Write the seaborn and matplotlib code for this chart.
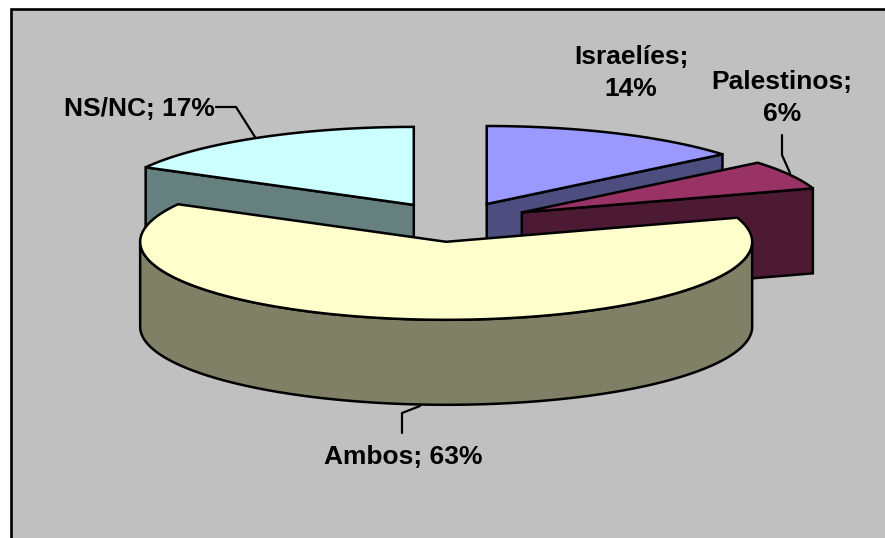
import numpy as np
import matplotlib.pyplot as plt
import matplotlib.patches as mpatches
import seaborn as sns

labels = ['Israelíes', 'Palestinos', 'Ambos', 'NS/NC']
shares = [14, 6, 63, 17]
top_colors = ['#9999FF', '#993366', '#FFFFCC', '#CCFFFF']
text_lines = ['Israelíes;\n14%', 'Palestinos;\n6%', 'Ambos; 63%', 'NS/NC; 17%']

sns.set_theme(style='white')
plt.rcParams['font.family'] = ['Liberation Sans', 'DejaVu Sans']
palette = sns.color_palette(top_colors)

# pie geometry, in picture pixels
cx, cy = 453.5, 222
rx, ry = 306, 78
depth = 85
explode = 78


def rim(c, angles):
    a = np.radians(angles)
    return np.column_stack([c[0] + rx * np.sin(a), c[1] - ry * np.cos(a)])


fig = plt.figure(figsize=(8.85, 5.38), dpi=100)
ax = fig.add_axes([0, 0, 1, 1])
ax.set_xlim(0, 885)
ax.set_ylim(538, 0)
ax.axis('off')

ax.add_patch(mpatches.Rectangle((10.5, 8.5), 890, 550, fc='#C0C0C0', ec='black', lw=1.9, zorder=0))

# slices, clockwise from 12 o'clock
edges = np.cumsum([0] + shares) * 3.6
slices = {}
for i, lab in enumerate(labels):
    start, end = edges[i], edges[i + 1]
    mid = np.radians((start + end) / 2)
    c = (cx + explode * np.sin(mid), cy - explode * (ry / rx) * np.cos(mid))
    slices[lab] = (c, start, end, palette[i])

down = np.array([0, depth])
# back slices first, the big front one last
draw_order = ['Israelíes', 'NS/NC', 'Palestinos', 'Ambos']
for z, lab in enumerate(draw_order):
    c, start, end, col = slices[lab]
    wall = tuple(np.array(col) * 0.5)
    apex = np.array(c)
    kw = dict(ec='black', lw=1.8, joinstyle='miter', zorder=2 + z)

    # cut faces seen from the front
    if start < 90 and end < 180:
        p = rim(c, [end])[0]
        ax.add_patch(mpatches.Polygon([apex, p, p + down, apex + down], fc=wall, **kw))
    if start > 180:
        p = rim(c, [start])[0]
        ax.add_patch(mpatches.Polygon([apex, p, p + down, apex + down], fc=wall, **kw))

    # outer wall
    a0, a1 = max(start, 90), min(end, 270)
    if a0 < a1:
        arc = rim(c, np.linspace(a0, a1, 150))
        ax.add_patch(mpatches.Polygon(np.vstack([arc, arc[::-1] + down]), fc=wall, **kw))

    # top
    arc = rim(c, np.linspace(start, end, 200))
    ax.add_patch(mpatches.Polygon(np.vstack([apex, arc]), fc=col, **kw))

# labels
txt = dict(fontsize=19, fontweight='bold', color='black', zorder=10, linespacing=1.4)
ax.text(631, 73, text_lines[0], ha='center', va='center', **txt)
ax.text(782, 98, text_lines[1], ha='center', va='center', **txt)
ax.text(403, 457, text_lines[2], ha='center', va='center', **txt)
ax.text(139, 109, text_lines[3], ha='center', va='center', **txt)

# leader lines
ax.plot([216, 236, 255], [107, 107, 137], color='black', lw=1.6, zorder=10)
ax.plot([782, 782, 790], [135, 155, 173], color='black', lw=1.6, zorder=10)
ax.plot([402, 402, 420], [433, 413, 406], color='black', lw=1.6, zorder=10)

fig.savefig('out.png', dpi=100, facecolor='white')
